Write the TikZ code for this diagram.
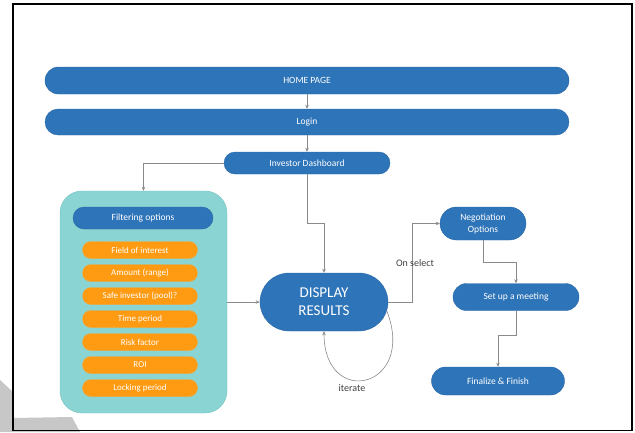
\documentclass[tikz,border=0pt]{standalone}
\usepackage{fontspec}
\setsansfont{Carlito}
\usetikzlibrary{arrows.meta,positioning,shapes.misc}
\definecolor{boxblue}{HTML}{2E74B8}
\definecolor{boxedge}{HTML}{2A68A6}
\definecolor{tealfill}{HTML}{8AD4D3}
\definecolor{tealedge}{HTML}{74C2C0}
\definecolor{optfill}{HTML}{FF9B12}
\definecolor{optedge}{HTML}{F4A83A}
\definecolor{linkgray}{HTML}{8A8A8A}
\begin{document}
\begin{tikzpicture}[x=1pt, y=-1pt, font=\sffamily,
	bluebox/.style={rounded rectangle, fill=boxblue, draw=boxedge, text=white, inner sep=0pt, font=\sffamily\fontsize{9.5}{11}\selectfont},
	optbox/.style={rounded rectangle, fill=optfill, draw=optedge, text=white, inner sep=0pt, minimum width=115pt, minimum height=17pt, font=\sffamily\fontsize{9}{10}\selectfont},
	link/.style={draw=linkgray, line width=0.6pt, -{Stealth[length=4pt,width=3.5pt]}},
	note/.style={text=black!75, font=\sffamily\fontsize{10}{12}\selectfont}]
	\useasboundingbox (0,0) rectangle (635,432);
	%frame
	\fill[black!22] (0,380) -- (13,392) -- (13,432) -- (0,432) -- cycle;
	\fill[black!22] (13,418) -- (72,417) -- (80,432) -- (13,432) -- cycle;
	\draw[line width=1.5pt] (13,4) rectangle (632,430.5);
	%top bars
	\node[bluebox, minimum width=524pt, minimum height=27pt] (home) at (307,80.5) {HOME PAGE};
	\node[bluebox, minimum width=524pt, minimum height=26pt] (login) at (307,122) {Login};
	\node[bluebox, minimum width=166pt, minimum height=22pt] (dash) at (307,163) {Investor Dashboard};
	%filter panel
	\node[rectangle, rounded corners=22pt, fill=tealfill, draw=tealedge, minimum width=167pt, minimum height=222pt] (filt) at (143.5,302) {};
	\node[bluebox, minimum width=140pt, minimum height=22pt] (filthead) at (143,218) {Filtering options};
	\foreach \i/\itext in {
		1/Field of interest,
		2/Amount (range),
		3/Safe investor (pool)?,
		4/Time period,
		5/Risk factor,
		6/ROI,
		7/Locking period
	}
	\node[optbox] (opt\i) at (140,{227+23*\i}) {\itext};
	%right side
	\node[bluebox, minimum width=128pt, minimum height=58pt, align=center, font=\sffamily\fontsize{15}{18}\selectfont] (disp) at (324,302) {DISPLAY\\RESULTS};
	\node[bluebox, minimum width=86pt, minimum height=33pt, align=center, font=\sffamily\fontsize{9.5}{12}\selectfont] (nego) at (483,223.5) {Negotiation\\Options};
	\node[bluebox, minimum width=126pt, minimum height=27pt] (meet) at (516,297) {Set up a meeting};
	\node[bluebox, minimum width=133pt, minimum height=28pt] (fin) at (498,381) {Finalize \& Finish};
	%links
	\draw[link] (home.south -| dash) -- (login.north -| dash);
	\draw[link] (login.south -| dash) -- (dash.north);
	\draw[link] (dash.west) -| (filt.north);
	\draw[link] (dash.south) -- ++(0,49) -| (disp.north);
	\draw[link] (filt.east) -- (disp.west);
	\draw[link] (disp.east) -- ++(24,0) |- (nego.west);
	\draw[link] (nego.south) -- ++(0,22) -| (meet.north);
	\draw[link] (meet.south) -- ++(0,25) -| (fin.north);
	\draw[link] (disp.-8) .. controls +(30,78) and +(0,78) .. (disp.south);
	%labels
	\node[note] (onsel) at (415,263) {On select};
	\node[note] (iter) at (352,388) {iterate};
\end{tikzpicture}
\end{document}
